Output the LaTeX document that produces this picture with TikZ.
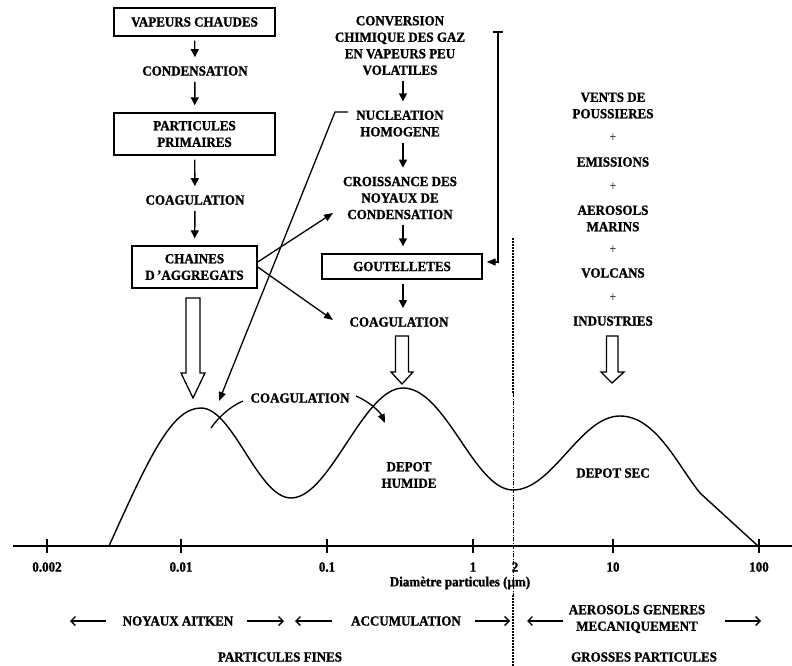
\documentclass[tikz,border=0pt]{standalone}
\usepackage{fontspec}
\setmainfont{Liberation Serif}[FakeStretch=0.93, BoldFeatures={FakeBold=1.2}]
\usetikzlibrary{arrows.meta,calc}
\begin{document}
\begin{tikzpicture}[x=1pt,y=-1pt,
  lbl/.style={font=\bfseries\fontsize{14}{16.5}\selectfont, align=center, inner sep=2pt},
  plustext/.style={font=\fontsize{13}{16.5}\selectfont, inner sep=1pt},
  boxed/.style={lbl, draw, line width=1.4pt, inner sep=0pt},
  flow/.style={line width=1.4pt, -{Triangle[length=8pt,width=8pt]}, shorten <=4pt, shorten >=7pt},
  linkarrow/.style={line width=1.3pt, -{Triangle[length=9pt,width=7pt]}},
  spanarrow/.style={line width=1.3pt, -{Straight Barb[length=4.5pt,width=9pt]}},
  hollowarrow/.style={draw, line width=1.3pt, fill=white, line join=miter},
  axtick/.style={line width=1.4pt}]
\useasboundingbox (0,0) rectangle (792,666);

% ---- left column
\node[boxed, minimum width=161pt, minimum height=28pt] (vap) at (194.5,22) {VAPEURS CHAUDES};
\node[lbl] (cond) at (195,71) {CONDENSATION};
\node[boxed, minimum width=161pt, minimum height=42pt] (prim) at (194.5,134) {PARTICULES\\PRIMAIRES};
\node[lbl] (coag1) at (195,200) {COAGULATION};
\node[boxed, minimum width=125pt, minimum height=42pt] (chain) at (194.5,267) {CHAINES\\D\,'AGGREGATS};
\draw[flow] (vap) -- (cond);
\draw[flow] (cond) -- (prim);
\draw[flow] (prim) -- (coag1);
\draw[flow] (coag1) -- (chain);

% ---- middle column
\node[lbl] (conv) at (400,45.5) {CONVERSION\\CHIMIQUE DES GAZ\\EN VAPEURS PEU\\VOLATILES};
\node[lbl] (nucl) at (400,123.5) {NUCLEATION\\HOMOGENE};
\node[lbl] (crois) at (400,198) {CROISSANCE DES\\NOYAUX DE\\CONDENSATION};
\node[boxed, minimum width=160pt, minimum height=25pt] (gout) at (402,266.5) {GOUTELLETES};
\node[lbl] (coag2) at (399,322) {COAGULATION};
\draw[flow] ($(conv.south)+(3,0)$) -- ($(nucl.north)+(3,0)$);
\draw[flow] ($(nucl.south)+(3,0)$) -- ($(crois.north)+(3,0)$);
\draw[flow] ($(crois.south)+(3,0)$) -- ($(gout.north)+(1,0)$);
\draw[flow] ($(gout.south)+(1,0)$) -- ($(coag2.north)+(4,0)$);

% bracket from conversion to goutelletes
\coordinate (brtop) at (498,32);
\coordinate (brbot) at (498,262);
\draw[line width=1.3pt] ($(brtop)+(-5,0)$) -- ($(brtop)+(5,0)$);
\draw[line width=1.3pt, -{Triangle[length=9pt,width=7pt]}] (brtop) -- (brbot) -- ($(gout.east)+(4,-4.5)$);

% ---- right column
\node[lbl] (vents) at (613,105.5) {VENTS DE\\POUSSIERES};
\node[plustext] (p1) at (613,138) {+};
\node[lbl] (emis) at (613,162) {EMISSIONS};
\node[plustext] (p2) at (613,187) {+};
\node[lbl] (aero) at (613,218.5) {AEROSOLS\\MARINS};
\node[plustext] (p3) at (613,250) {+};
\node[lbl] (volc) at (613,273) {VOLCANS};
\node[plustext] (p4) at (613,298) {+};
\node[lbl] (indu) at (613,321) {INDUSTRIES};

% ---- cross links
\coordinate (nuclA) at (348,112);
\coordinate (nuclB) at (335,112);
\coordinate (peakA) at (219,401);
\draw[linkarrow] (nuclA) -- (nuclB) -- (peakA);
\coordinate (croisT) at (333,213);
\coordinate (coagT) at (333,320);
\draw[linkarrow] ($(chain.east)+(0,-5)$) -- (croisT);
\draw[linkarrow] ($(chain.east)+(0,0)$) -- (coagT);

% ---- hollow arrows
\draw[hollowarrow] (186,298) -- (186,373) -- (181,373) -- (193,398) -- (205,373) -- (200,373) -- (200,298) -- cycle;
\draw[hollowarrow] (395.5,336) -- (395.5,372) -- (391,372) -- (402,384) -- (413,372) -- (408.5,372) -- (408.5,336) -- cycle;
\draw[hollowarrow] (606.5,336) -- (606.5,372) -- (601,372) -- (612,383) -- (624,372) -- (618,372) -- (618,336) -- cycle;

% ---- size distribution curve
\draw[line width=1.4pt, line join=round]
  (109,546) .. controls (150,455) and (172,408) .. (201,408)
  .. controls (233,408) and (258,498) .. (291,498)
  .. controls (330,498) and (363,388) .. (403,388)
  .. controls (446,388) and (474,490) .. (513,490)
  .. controls (553,490) and (580,416) .. (620,416)
  .. controls (656,416) and (678,466) .. (700,493)
  -- (758,546);

% coagulation between modes
\node[lbl] (coag3) at (300,398) {COAGULATION};
\draw[line width=1.3pt] (243,401) .. controls (229,407) and (218,418) .. (211,428);
\draw[line width=1.3pt, -{Triangle[length=9pt,width=7pt]}] (356,396) .. controls (370,402) and (380,412) .. (385,423);

\node[lbl] (humide) at (409,475) {DEPOT\\HUMIDE};
\node[lbl] (sec) at (613,473) {DEPOT SEC};

% ---- dividing line at 2 micron
\draw[line width=2pt, dash pattern=on 2pt off 1pt] (513,238) -- (513,393);
\draw[line width=0.7pt, dash pattern=on 4pt off 1.5pt on 1pt off 1.5pt] (513,393) -- (513,595);
\draw[line width=2pt, dash pattern=on 2pt off 1pt] (513,595) -- (513,666);

% ---- axis
\draw[line width=1.4pt] (13,546) -- (792,546);
\foreach \x/\t in {47/0.002,181/0.01,327/0.1,473/1,613/10,759/100}{
  \draw[axtick] (\x,539) -- (\x,553);
  \node[lbl] at (\x,567) {\t};
}
\node[lbl] (two) at (515,567) {2};
\node[lbl] (axlabel) at (460,583) {Diamètre particules (µm)};

% ---- size ranges
\node[lbl] (aitken) at (178,621) {NOYAUX AITKEN};
\node[lbl] (accu) at (406,621) {ACCUMULATION};
\node[lbl] (meca) at (637,619) {AEROSOLS GENERES\\MECANIQUEMENT};
\draw[spanarrow] (106,621) -- (70,621);
\draw[spanarrow] (247,621) -- (284,621);
\draw[spanarrow] (332,621) -- (295,621);
\draw[spanarrow] (475,621) -- (510,621);
\draw[spanarrow] (563,621) -- (527,621);
\draw[spanarrow] (725,621) -- (761,621);
\node[lbl] (fines) at (280,657) {PARTICULES FINES};
\node[lbl] (grosses) at (644,657) {GROSSES PARTICULES};
\end{tikzpicture}
\end{document}
